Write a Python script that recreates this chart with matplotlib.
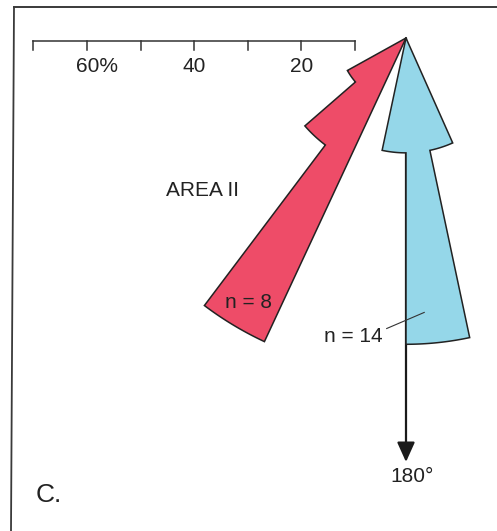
import numpy as np
import matplotlib.pyplot as plt
from matplotlib.patches import Polygon
from matplotlib.lines import Line2D

plt.rcParams['font.family'] = ['Liberation Sans', 'DejaVu Sans']

# rose diagram data: bin centres are bearings in degrees (clockwise from N)
bin_width = 12
red_bins = [211, 223, 235]
red_counts = [5, 2, 1]
blue_bins = [162, 174, 186]
blue_counts = [3, 8, 3]

scale_ticks = [10, 20, 30, 40, 50, 60, 70]
scale_labels = {60: '60%', 40: '40', 20: '20'}
area_label = 'AREA II'
panel_label = 'C.'
arrow_label = '180°'

px = 5.36  # pixels per percent


def rose_outline(centres, counts):
    n = sum(counts)
    pts = [(0, 0)]
    for c, k in sorted(zip(centres, counts)):
        r = 100.0 * k / n
        b = np.linspace(c - bin_width / 2, c + bin_width / 2, 40)
        t = np.radians(90 - b)
        pts += list(zip(r * np.cos(t), r * np.sin(t)))
    pts.append((0, 0))
    return pts


fig = plt.figure(figsize=(4.97, 5.31), dpi=100)
ax = fig.add_axes([0, 0, 1, 1])
ax.set_xlim(-406 / px, 91 / px)
ax.set_ylim(-493 / px, 38 / px)
ax.axis('off')

ink = '#222222'
fs = 15

# frame
fig.add_artist(Line2D([14 / 497, 11 / 497], [1 - 7.3 / 531, 0], color='#3a3a3a', lw=1.3))
fig.add_artist(Line2D([14 / 497, 1], [1 - 7.3 / 531, 1 - 7.3 / 531], color='#3a3a3a', lw=1.4))

# scale bar (zero of the bar sits slightly right of the apex in the original)
x0 = 0.5
yb = -0.65
ax.plot([x0 - max(scale_ticks), x0 - min(scale_ticks)], [yb, yb], color='#333', lw=1.1)
for t in scale_ticks:
    ax.plot([x0 - t, x0 - t], [yb, yb - 1.5], color='#333', lw=1.1)
for t, lab in scale_labels.items():
    if lab.endswith('%'):
        ax.text(x0 - t - 2.1, -5.35, lab, ha='left', va='center', fontsize=fs, color=ink)
    else:
        ax.text(x0 - t, -5.35, lab, ha='center', va='center', fontsize=fs, color=ink)

# 180 arrow
ax.annotate('', xy=(0, -79.1), xytext=(0, 0),
            arrowprops=dict(arrowstyle='-|>,head_length=0.6,head_width=0.27',
                            color='#1a1a1a', lw=1.6, mutation_scale=20,
                            shrinkA=0, shrinkB=0), zorder=1)

ax.add_patch(Polygon(rose_outline(red_bins, red_counts), closed=True,
                     facecolor='#EE4C68', edgecolor=ink, lw=1.1, zorder=2))
ax.add_patch(Polygon(rose_outline(blue_bins, blue_counts), closed=True,
                     facecolor='#95D7E9', edgecolor=ink, lw=1.1, zorder=2))

ax.text(-38.0, -28.5, area_label, ha='center', va='center', fontsize=fs, color=ink)
ax.text(-29.3, -49.3, 'n = %d' % sum(red_counts), ha='center', va='center',
        fontsize=fs, color=ink, zorder=3)
ax.text(-9.9, -55.6, 'n = %d' % sum(blue_counts), ha='center', va='center',
        fontsize=fs, color=ink, zorder=3)
ax.plot([-3.6, 3.4], [-54.2, -51.2], color='#333', lw=0.8, zorder=3)
ax.text(1.2, -81.9, arrow_label, ha='center', va='center', fontsize=fs, color=ink)
ax.text(-66.6, -85.3, panel_label, ha='center', va='center', fontsize=19, color=ink)

fig.savefig('out.png', dpi=100)
